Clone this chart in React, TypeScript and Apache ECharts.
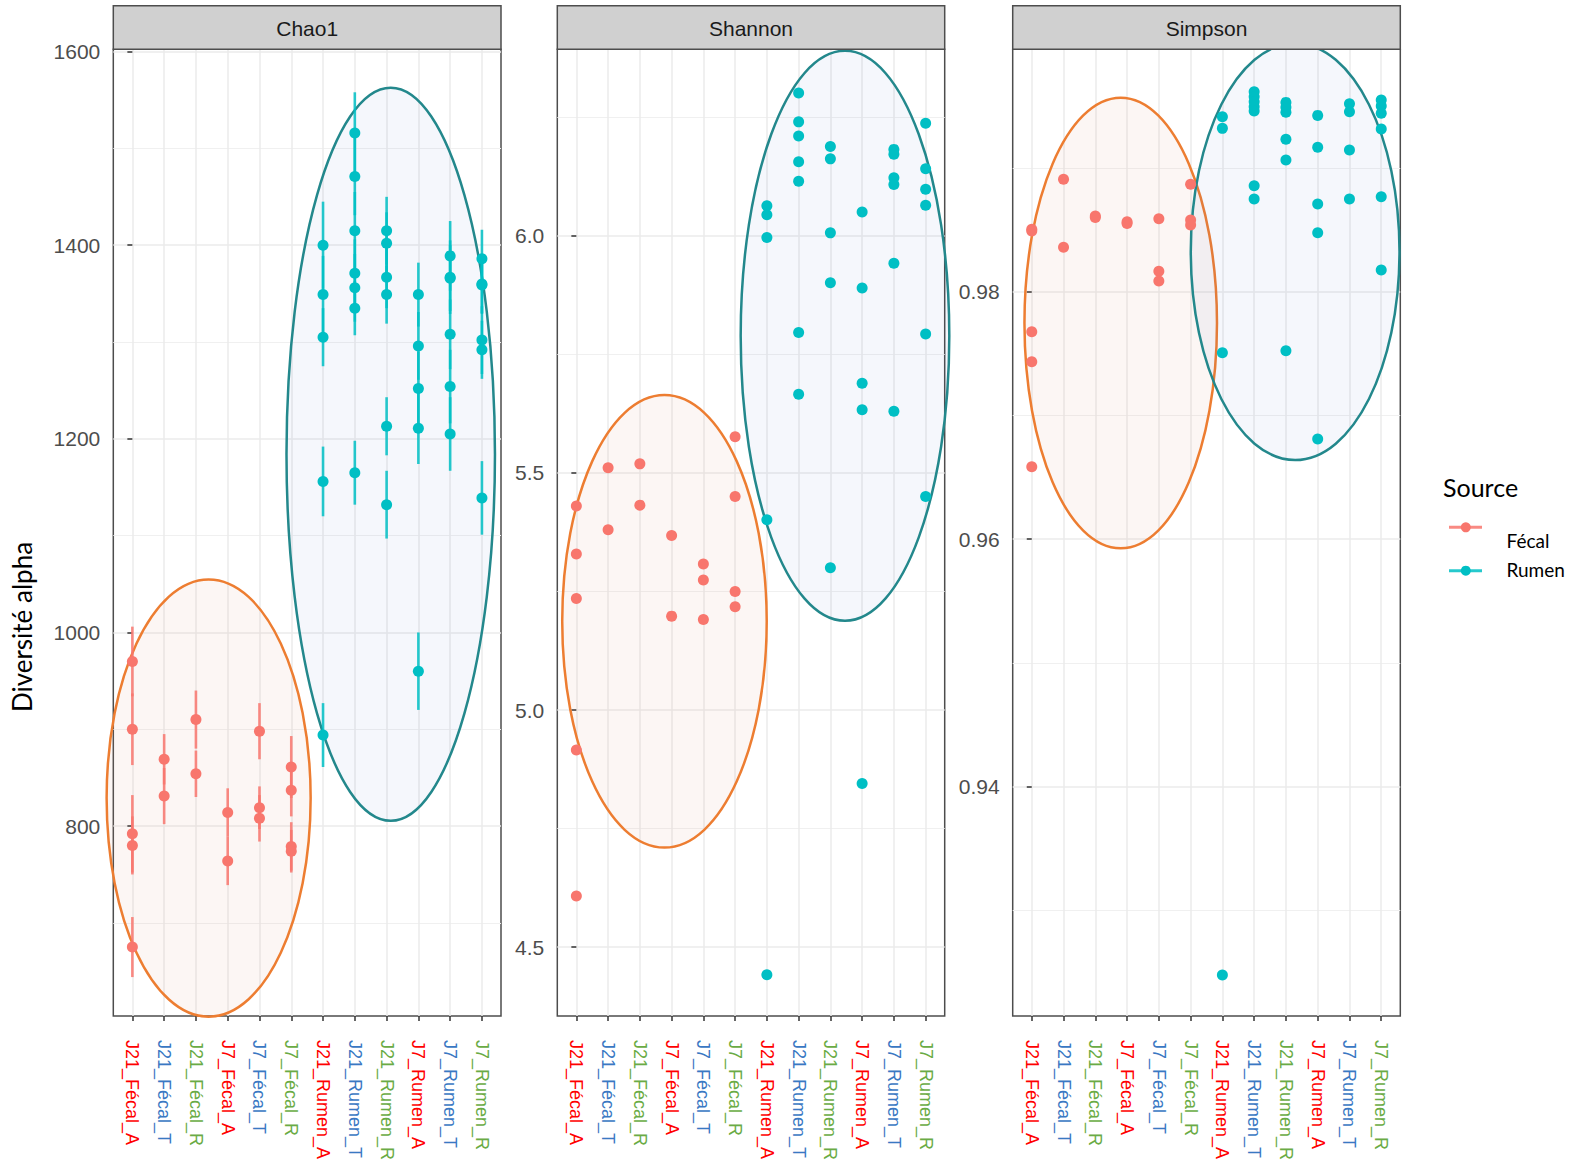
import React, { useEffect, useRef } from 'react';
import * as echarts from 'echarts';

// ---------------- data ----------------
const categories = [
  'J21_Fécal_A', 'J21_Fécal_T', 'J21_Fécal_R', 'J7_Fécal_A', 'J7_Fécal_T', 'J7_Fécal_R',
  'J21_Rumen_A', 'J21_Rumen_T', 'J21_Rumen_R', 'J7_Rumen_A', 'J7_Rumen_T', 'J7_Rumen_R',
];
const sources = ['Fécal', 'Rumen'];
const panelTitles = ['Chao1', 'Shannon', 'Simpson'];

// [category index, value, standard error]
const chao1Fecal = [
  [0, 970, 36], [0, 900, 37], [0, 792, 40], [0, 780, 30], [0, 675, 31],
  [1, 869, 26], [1, 831, 29],
  [2, 910, 30], [2, 854, 24],
  [3, 814, 25], [3, 764, 25],
  [4, 898, 29], [4, 819, 22], [4, 808, 24],
  [5, 861, 32], [5, 837, 27], [5, 779, 25], [5, 774, 22],
];
const chao1Rumen = [
  [6, 1400, 45], [6, 1349, 40], [6, 1305, 30], [6, 1156, 36], [6, 894, 33],
  [7, 1516, 42], [7, 1471, 40], [7, 1415, 40], [7, 1371, 35], [7, 1356, 35], [7, 1335, 28], [7, 1165, 33],
  [8, 1415, 35], [8, 1402, 32], [8, 1367, 32], [8, 1349, 30], [8, 1213, 30], [8, 1132, 35],
  [9, 1349, 33], [9, 1296, 35], [9, 1252, 38], [9, 1211, 37], [9, 960, 40],
  [10, 1389, 36], [10, 1367, 38], [10, 1366, 34], [10, 1308, 36], [10, 1254, 38], [10, 1205, 38],
  [11, 1386, 30], [11, 1360, 30], [11, 1359, 30], [11, 1302, 35], [11, 1292, 30], [11, 1139, 38],
];
const shannonFecal = [
  [0, 5.430], [0, 5.329], [0, 5.235], [0, 4.916], [0, 4.608],
  [1, 5.511], [1, 5.380],
  [2, 5.519], [2, 5.432],
  [3, 5.368], [3, 5.198],
  [4, 5.308], [4, 5.274], [4, 5.191],
  [5, 5.576], [5, 5.450], [5, 5.250], [5, 5.218],
];
const shannonRumen = [
  [6, 6.063], [6, 6.044], [6, 5.996], [6, 5.401], [6, 4.442],
  [7, 6.301], [7, 6.240], [7, 6.210], [7, 6.156], [7, 6.115], [7, 5.796], [7, 5.666],
  [8, 6.188], [8, 6.162], [8, 6.006], [8, 5.901], [8, 5.300],
  [9, 6.050], [9, 5.890], [9, 5.689], [9, 5.633], [9, 4.845],
  [10, 6.182], [10, 6.172], [10, 6.122], [10, 6.108], [10, 5.942], [10, 5.630],
  [11, 6.237], [11, 6.141], [11, 6.098], [11, 6.064], [11, 5.793], [11, 5.450],
];
const simpsonFecal = [
  [0, 0.98504], [0, 0.98490], [0, 0.97677], [0, 0.97434], [0, 0.96586],
  [1, 0.98908], [1, 0.98359],
  [2, 0.98612], [2, 0.98600],
  [3, 0.98566], [3, 0.98552],
  [4, 0.98590], [4, 0.98165], [4, 0.98086],
  [5, 0.98868], [5, 0.98579], [5, 0.98539],
];
const simpsonRumen = [
  [6, 0.99414], [6, 0.99320], [6, 0.97507], [6, 0.92478],
  [7, 0.99616], [7, 0.99576], [7, 0.99535], [7, 0.99495], [7, 0.99460], [7, 0.98857], [7, 0.98749],
  [8, 0.99530], [8, 0.99490], [8, 0.99450], [8, 0.99232], [8, 0.99064], [8, 0.97523],
  [9, 0.99425], [9, 0.99167], [9, 0.98709], [9, 0.98477], [9, 0.96810],
  [10, 0.99519], [10, 0.99455], [10, 0.99145], [10, 0.98749],
  [11, 0.99549], [11, 0.99501], [11, 0.99442], [11, 0.99315], [11, 0.98768], [11, 0.98175],
];

// tick labels
const chao1Ticks = [800, 1000, 1200, 1400, 1600];
const chao1Minor = [700, 900, 1100, 1300, 1500];
const shannonTicks = [4.5, 5.0, 5.5, 6.0];
const shannonMinor = [4.75, 5.25, 5.75, 6.25];
const simpsonTicks = [0.94, 0.96, 0.98];
const simpsonMinor = [0.93, 0.95, 0.97, 0.99];

// annotation ellipses [center x (category units), center y, radius x, radius y]
const chao1Ellipses = [[2.40, 828.9, 3.21, 225.8], [8.13, 1184.1, 3.28, 378.6]];
const shannonEllipses = [[2.775, 5.187, 3.22, 0.477], [8.46, 5.789, 3.285, 0.6008]];
const simpsonEllipses = [[2.80, 0.97747, 3.03, 0.018206], [8.29, 0.98323, 3.285, 0.016835]];

// ---------------- styling ----------------
const FECAL = '#F8766D';
const RUMEN = '#00BFC4';
const ELL_STROKE = ['#ED7D31', '#23888C'];
const ELL_FILL = ['rgba(220,140,110,0.08)', 'rgba(68,114,196,0.055)'];
const LABEL_COLORS: Record<string, string> = { A: '#FF0000', T: '#3A78C3', R: '#6AAB45' };

const GRIDS = [
  { left: 113.3, top: 49.3, width: 387.7, height: 966.7 },
  { left: 557.3, top: 49.3, width: 387.4, height: 966.7 },
  { left: 1012.7, top: 49.3, width: 387.6, height: 966.7 },
];

const panels = [
  {
    min: 603.8, max: 1602.4, ticks: chao1Ticks, minor: chao1Minor,
    fmt: (v: number) => String(Math.round(v)),
    fecal: chao1Fecal, rumen: chao1Rumen, ellipses: chao1Ellipses, err: true,
  },
  {
    min: 4.355, max: 6.393, ticks: shannonTicks, minor: shannonMinor,
    fmt: (v: number) => Number(v).toFixed(1),
    fecal: shannonFecal, rumen: shannonRumen, ellipses: shannonEllipses, err: false,
  },
  {
    min: 0.92147, max: 0.99959, ticks: simpsonTicks, minor: simpsonMinor,
    fmt: (v: number) => Number(v).toFixed(2),
    fecal: simpsonFecal, rumen: simpsonRumen, ellipses: simpsonEllipses, err: false,
  },
];

const catIdx = categories.map((_, i) => i);

function labelColor(v: any) {
  const name = categories[Math.round(Number(v))] || '';
  return LABEL_COLORS[name.slice(-1)] || '#333';
}

function buildOption() {
  const xAxis: any[] = [];
  const yAxis: any[] = [];
  const series: any[] = [];
  const graphic: any[] = [];

  panels.forEach((p, i) => {
    const g = GRIDS[i];
    xAxis.push({
      type: 'value', gridIndex: i, min: -0.6, max: 11.6,
      axisLine: { show: false },
      axisTick: { show: true, customValues: catIdx, length: 5, lineStyle: { color: '#333333', width: 1.5 } },
      axisLabel: {
        show: true, customValues: catIdx, rotate: -90, margin: 24,
        fontSize: 18, fontFamily: 'Liberation Sans',
        formatter: (v: any) => categories[Math.round(Number(v))] || '',
        color: (v: any) => labelColor(v),
      },
      splitLine: { show: true, lineStyle: { color: '#EBEBEB', width: 1.5 } },
    });
    yAxis.push({
      type: 'value', gridIndex: i, min: p.min, max: p.max, position: 'left',
      axisLine: { show: false },
      axisTick: { show: true, customValues: p.ticks, length: 5, lineStyle: { color: '#333333', width: 1.5 } },
      axisLabel: {
        show: true, customValues: p.ticks, margin: 13, fontSize: 21,
        fontFamily: 'Liberation Sans', color: '#4D4D4D', formatter: p.fmt,
      },
      splitLine: { show: true, lineStyle: { color: '#EBEBEB', width: 1.5 } },
    });
    yAxis.push({
      type: 'value', gridIndex: i, min: p.min, max: p.max, position: 'left',
      axisLine: { show: false },
      axisTick: { show: false, customValues: p.minor },
      axisLabel: { show: false, customValues: p.minor },
      splitLine: { show: true, lineStyle: { color: '#F0F0F0', width: 1.2 } },
    });

    const yi = i * 2;
    p.ellipses.forEach((e, k) => {
      series.push({
        type: 'custom', xAxisIndex: i, yAxisIndex: yi, silent: true, z: 2,
        data: [e], encode: { x: 0, y: 1 },
        renderItem: (params: any, api: any) => {
          const c = api.coord([api.value(0), api.value(1)]);
          const s = api.size([api.value(2), api.value(3)]);
          return {
            type: 'ellipse',
            shape: { cx: c[0], cy: c[1], rx: s[0], ry: s[1] },
            style: { fill: ELL_FILL[k], stroke: ELL_STROKE[k], lineWidth: 2.5 },
          };
        },
      });
    });

    const groups: [any[], string][] = [[p.fecal, FECAL], [p.rumen, RUMEN]];
    groups.forEach(([arr, color]) => {
      if (p.err) {
        series.push({
          type: 'custom', xAxisIndex: i, yAxisIndex: yi, silent: true, z: 3,
          data: arr.map((d: number[]) => [d[0], d[1] - d[2], d[1] + d[2]]),
          encode: { x: 0, y: [1, 2] },
          renderItem: (params: any, api: any) => {
            const a = api.coord([api.value(0), api.value(1)]);
            const b = api.coord([api.value(0), api.value(2)]);
            return {
              type: 'line',
              shape: { x1: a[0], y1: a[1], x2: b[0], y2: b[1] },
              style: { stroke: color, lineWidth: 2.6, opacity: 0.85 },
            };
          },
        });
      }
      series.push({
        type: 'scatter', xAxisIndex: i, yAxisIndex: yi, silent: true, z: 4,
        data: arr.map((d: number[]) => [d[0], d[1]]),
        symbol: 'circle', symbolSize: 11,
        itemStyle: { color, opacity: 1 },
      });
    });

    // facet strip
    graphic.push({
      type: 'rect', z: 10,
      shape: { x: g.left, y: 5.7, width: g.width, height: 43.6 },
      style: { fill: '#D0D0D0', stroke: '#4D4D4D', lineWidth: 1.5 },
    });
    graphic.push({
      type: 'text', z: 11, x: g.left + g.width / 2, y: 28,
      style: {
        text: panelTitles[i], fontSize: 21, fontFamily: 'Liberation Sans', fill: '#1A1A1A',
        align: 'center', verticalAlign: 'middle', textAlign: 'center', textVerticalAlign: 'middle',
      },
    });
  });

  // y title
  graphic.push({
    type: 'text', x: 22, y: 627, rotation: Math.PI / 2,
    style: {
      text: 'Diversité alpha', fontSize: 26, fontFamily: 'Lato', fill: '#000',
      align: 'center', verticalAlign: 'middle', textAlign: 'center', textVerticalAlign: 'middle',
    },
  });
  // legend
  graphic.push({
    type: 'text', x: 1443, y: 487,
    style: {
      text: 'Source', fontSize: 25, fontFamily: 'Lato', fill: '#000',
      align: 'left', verticalAlign: 'middle', textAlign: 'left', textVerticalAlign: 'middle',
    },
  });
  const legendRows = [
    { key: 527.3, text: 540, color: FECAL },
    { key: 570.7, text: 569, color: RUMEN },
  ];
  legendRows.forEach((r, k) => {
    graphic.push({ type: 'line', shape: { x1: 1449, y1: r.key, x2: 1482, y2: r.key }, style: { stroke: r.color, lineWidth: 3, opacity: 0.85 } });
    graphic.push({ type: 'circle', shape: { cx: 1465.8, cy: r.key, r: 5 }, style: { fill: r.color } });
    graphic.push({
      type: 'text', x: 1506.5, y: r.text,
      style: {
        text: sources[k], fontSize: 19, fontFamily: 'Lato', fill: '#000',
        align: 'left', verticalAlign: 'middle', textAlign: 'left', textVerticalAlign: 'middle',
      },
    });
  });

  return {
    animation: false,
    backgroundColor: '#FFFFFF',
    grid: GRIDS.map((g) => ({
      ...g, containLabel: false, outerBoundsMode: 'none',
      show: true, borderColor: '#4D4D4D', borderWidth: 1.5, backgroundColor: 'transparent',
    })),
    xAxis, yAxis, series, graphic,
  };
}

export default function App() {
  const ref = useRef<HTMLDivElement>(null);
  useEffect(() => {
    document.body.style.margin = '0';
    const chart = echarts.init(ref.current!, null, { renderer: 'svg' });
    chart.setOption(buildOption() as any);
    return () => chart.dispose();
  }, []);
  return <div ref={ref} style={{ width: 1575, height: 1168 }} />;
}
